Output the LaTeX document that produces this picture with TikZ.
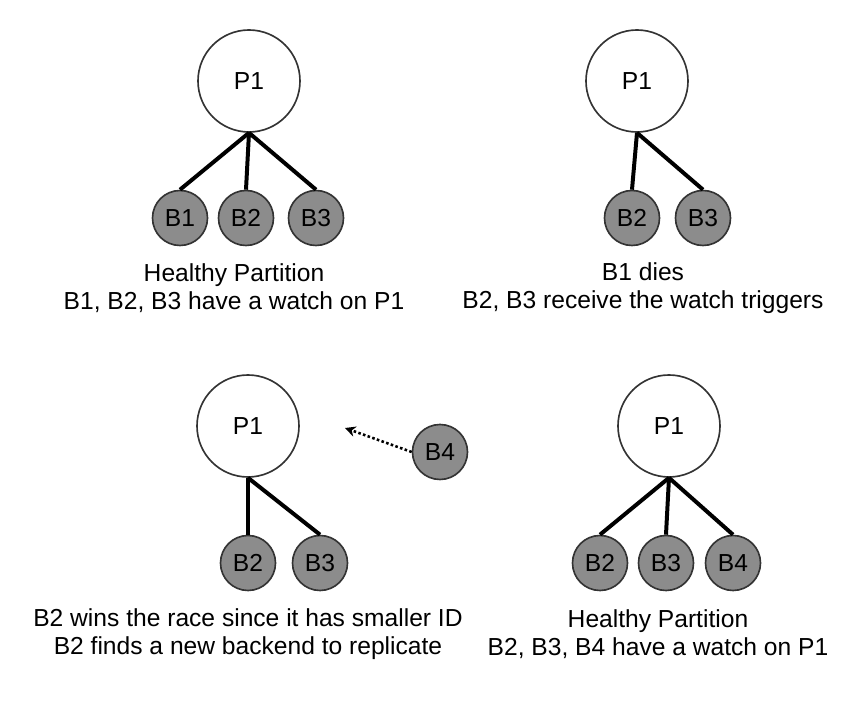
\documentclass[tikz,border=0pt]{standalone}
\usepackage{fontspec}
\setmainfont{Liberation Sans}
\usetikzlibrary{arrows.meta}
\tikzset{
  part/.style={circle, draw=black!80, line width=1.4pt, fill=white,
    minimum size=3.06cm, inner sep=0pt, font=\fontsize{21}{25}\selectfont},
  back/.style={circle, draw=black!80, line width=1.4pt, fill=black!45,
    minimum size=1.65cm, inner sep=0pt, font=\fontsize{21}{25}\selectfont},
  link/.style={line width=3.4pt},
  caption/.style={align=center, font=\fontsize{21}{23.8}\selectfont}
}
\begin{document}
\begin{tikzpicture}[x=0.03cm, y=-0.03cm]
  \useasboundingbox (0,0) rectangle (854,708);

  % Healthy partition
  \node[part] (p1a) at (249,81) {P1};
  \node[back] (b1a) at (180,218) {B1};
  \node[back] (b2a) at (246,218) {B2};
  \node[back] (b3a) at (316,218) {B3};
  \draw[link] (p1a.south) -- (b1a.north);
  \draw[link] (p1a.south) -- (b2a.north);
  \draw[link] (p1a.south) -- (b3a.north);
  \node[caption] (capa) at (234,288) {Healthy Partition\\B1, B2, B3 have a watch on P1};

  % B1 dies
  \node[part] (p1b) at (637,81) {P1};
  \node[back] (b2b) at (632,218) {B2};
  \node[back] (b3b) at (703,218) {B3};
  \draw[link] (p1b.south) -- (b2b.north);
  \draw[link] (p1b.south) -- (b3b.north);
  \node[caption] (capb) at (643,288) {B1 dies\\B2, B3 receive the watch triggers};

  % B2 wins the race
  \node[part] (p1c) at (248,426) {P1};
  \node[back] (b2c) at (248,563) {B2};
  \node[back] (b3c) at (320,563) {B3};
  \node[back] (b4c) at (440,452) {B4};
  \coordinate (tipc) at (345,428);
  \draw[link] (p1c.south) -- (b2c.north);
  \draw[link] (p1c.south) -- (b3c.north);
  \draw[line width=2.2pt, dotted, -{Stealth[length=9pt, width=9pt]}] (b4c.west) -- (tipc);
  \node[caption] (capc) at (248,634) {B2 wins the race since it has smaller ID\\B2 finds a new backend to replicate};

  % Healthy partition again
  \node[part] (p1d) at (669,426) {P1};
  \node[back] (b2d) at (600,563) {B2};
  \node[back] (b3d) at (666,563) {B3};
  \node[back] (b4d) at (733,563) {B4};
  \draw[link] (p1d.south) -- (b2d.north);
  \draw[link] (p1d.south) -- (b3d.north);
  \draw[link] (p1d.south) -- (b4d.north);
  \node[caption] (capd) at (658,634) {Healthy Partition\\B2, B3, B4 have a watch on P1};
\end{tikzpicture}
\end{document}
